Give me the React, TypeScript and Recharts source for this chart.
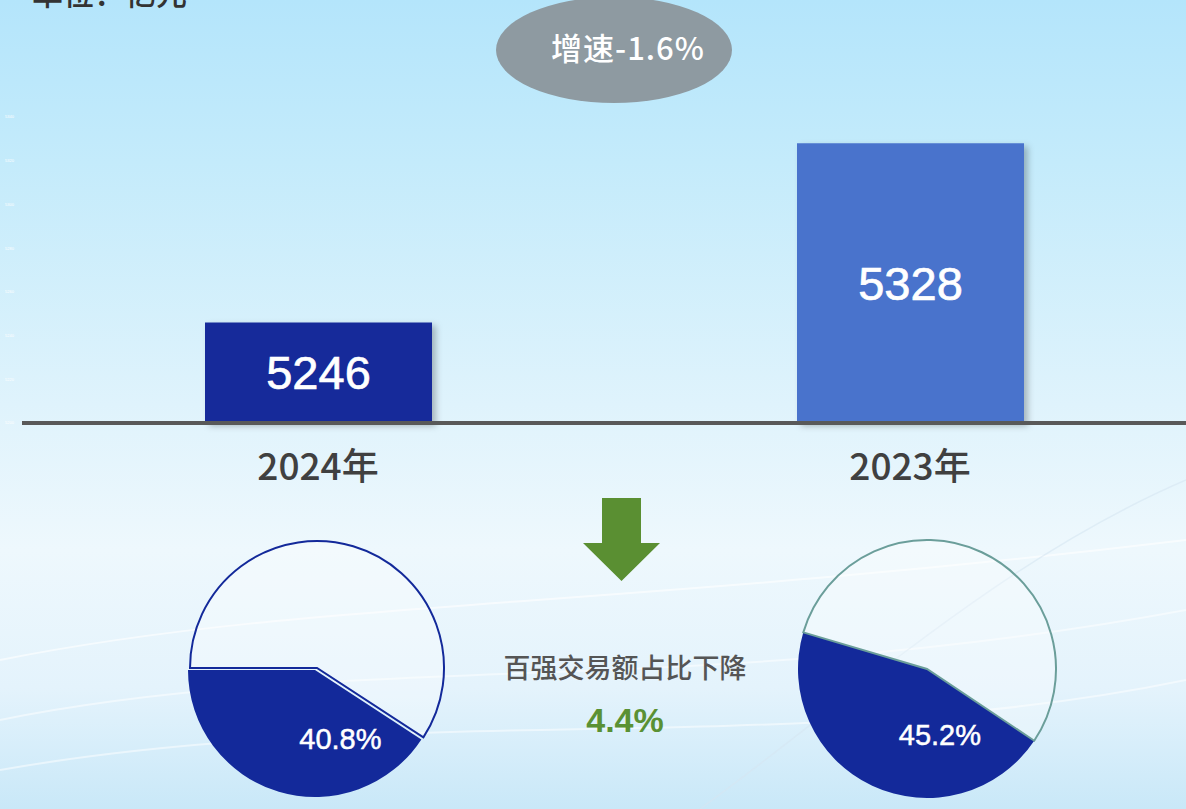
import { BarChart, Bar, XAxis, YAxis, Cell, LabelList, PieChart, Pie } from "recharts";

const categories = ["2024年", "2023年"];
const totals = [5246, 5328];
const yTicks = [5200, 5220, 5240, 5260, 5280, 5300, 5320, 5340];
const growthText = "增速-1.6%";
const unitText = "单位：亿元";

const shareNames = ["百强", "其他"];
const share2024 = [40.8, 59.2];
const share2023 = [45.2, 54.8];
const dropText = "百强交易额占比下降";
const dropValue = "4.4%";

const BAR_COLORS = ["#13299a", "#4a73cc"];
const NAVY = "#13299a";
const TEAL = "#6b9e9a";
const FONT = '"Liberation Sans", "Noto Sans CJK SC", sans-serif';
const CJK = '"Noto Sans CJK SC", "Liberation Sans", sans-serif';

const barData = categories.map((c, i) => ({ name: c, value: totals[i] }));
const pie2024 = shareNames.map((n, i) => ({ name: n, value: share2024[i] }));
const pie2023 = shareNames.map((n, i) => ({ name: n, value: share2023[i] }));

const shareLabel = (dx: number, dy: number) => (p: any) => {
  if (p.index !== 0) return null;
  return (
    <text
      x={p.cx + dx * p.outerRadius}
      y={p.cy + dy * p.outerRadius}
      fill="#fff"
      stroke="#fff"
      strokeWidth={0.5}
      fontSize={29}
      textAnchor="middle"
      dominantBaseline="central"
      fontFamily={FONT}
    >
      {p.value}%
    </text>
  );
};

const App = () => {
  return (
    <div
      style={{
        position: "fixed",
        left: 0,
        top: 0,
        width: 1186,
        height: 809,
        overflow: "hidden",
        fontFamily: FONT,
        background:
          "linear-gradient(180deg, #b4e5fb 0%, #c4ebfb 20%, #dff3fc 50%, #eef8fd 68%, #e4f3fc 85%, #c9e8f8 100%)",
      }}
    >
      <svg width={1186} height={809} style={{ position: "absolute", left: 0, top: 0 }}>
        <path d="M0 660 C 300 600, 600 610, 1186 540" stroke="#ffffff" strokeOpacity={0.6} strokeWidth={2} fill="none" />
        <path d="M0 720 C 350 650, 700 700, 1186 610" stroke="#ffffff" strokeOpacity={0.5} strokeWidth={2} fill="none" />
        <path d="M0 770 C 400 700, 800 760, 1186 680" stroke="#ffffff" strokeOpacity={0.5} strokeWidth={2} fill="none" />
        <path d="M700 809 C 850 700, 1000 560, 1186 480" stroke="#d6e6f2" strokeOpacity={0.6} strokeWidth={1.5} fill="none" />
      </svg>

      <div style={{ position: "absolute", left: 0, top: 0 }}>
        <BarChart width={1206} height={505} data={barData} margin={{ top: 117, right: 0, bottom: 0, left: 0 }}>
          <defs>
            <filter id="barShadow" x="-10%" y="-10%" width="130%" height="130%">
              <feDropShadow dx={4} dy={3} stdDeviation={3} floodColor="#000" floodOpacity={0.25} />
            </filter>
          </defs>
          <YAxis
            domain={[5200, 5340]}
            ticks={yTicks}
            width={22}
            axisLine={false}
            tickLine={false}
            tick={{ fontSize: 4, fill: "#ffffff" }}
          />
          <XAxis
            dataKey="name"
            height={82}
            tickSize={0}
            tickMargin={31}
            axisLine={{ stroke: "#595959", strokeWidth: 4 }}
            tick={{ fontSize: 37, fill: "#404040", fontWeight: 500, fontFamily: CJK }}
          />
          <Bar dataKey="value" barSize={227} isAnimationActive={false} filter="url(#barShadow)">
            {barData.map((_, i) => (
              <Cell key={i} fill={BAR_COLORS[i]} />
            ))}
            <LabelList
              dataKey="value"
              position="center"
              fill="#ffffff"
              stroke="#ffffff"
              strokeWidth={0.7}
              fontSize={47}
            />
          </Bar>
        </BarChart>
      </div>

      <div style={{ position: "absolute", left: 0, top: 520 }}>
        <PieChart width={1186} height={289} margin={{ top: 0, right: 0, bottom: 0, left: 0 }}>
          <Pie
            data={pie2024}
            dataKey="value"
            cx={317}
            cy={148}
            outerRadius={127}
            startAngle={180}
            endAngle={540}
            isAnimationActive={false}
          >
            <Cell fill="none" stroke="none" />
            <Cell fill="#ffffff" fillOpacity={0.3} stroke={NAVY} strokeWidth={2} />
          </Pie>
          <Pie
            data={pie2024}
            dataKey="value"
            cx={315}
            cy={150}
            outerRadius={127}
            startAngle={180}
            endAngle={540}
            isAnimationActive={false}
            labelLine={false}
            label={shareLabel(0.2, 0.54)}
          >
            <Cell fill={NAVY} stroke="none" />
            <Cell fill="none" stroke="none" />
          </Pie>
          <Pie
            data={pie2023}
            dataKey="value"
            cx={927}
            cy={149}
            outerRadius={129}
            startAngle={163.5}
            endAngle={523.5}
            isAnimationActive={false}
            labelLine={false}
            label={shareLabel(0.1, 0.51)}
          >
            <Cell fill={NAVY} stroke="none" />
            <Cell fill="#ffffff" fillOpacity={0.3} stroke={TEAL} strokeWidth={2} />
          </Pie>
        </PieChart>
      </div>

      <svg width={1186} height={809} style={{ position: "absolute", left: 0, top: 0, pointerEvents: "none" }}>
        <text x={32} y={5} fontSize={31} fontWeight={500} fill="#333333" fontFamily={CJK}>
          {unitText}
        </text>
        <ellipse cx={614} cy={50} rx={118} ry={53} fill="#8e9aa1" />
        <text
          x={628}
          y={46}
          fontSize={31}
          fontWeight={500}
          fill="#ffffff"
          textAnchor="middle"
          dominantBaseline="central"
          fontFamily={CJK}
          letterSpacing={1}
        >
          {growthText}
        </text>
        <polygon points="602,498 641,498 641,543 660,543 621.5,581 583,543 602,543" fill="#5a8f32" />
        <text
          x={625}
          y={666}
          fontSize={27}
          fontWeight={500}
          fill="#555555"
          textAnchor="middle"
          dominantBaseline="central"
          fontFamily={CJK}
        >
          {dropText}
        </text>
        <text
          x={625}
          y={720}
          fontSize={34}
          fontWeight={700}
          fill="#5a9134"
          textAnchor="middle"
          dominantBaseline="central"
          fontFamily={FONT}
        >
          {dropValue}
        </text>
      </svg>
    </div>
  );
};

export default App;
